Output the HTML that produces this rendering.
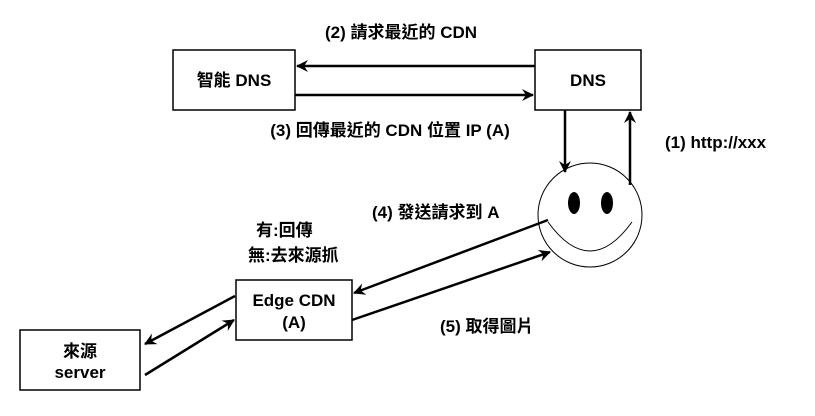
<!DOCTYPE html>
<html><head><meta charset="utf-8"><style>
body{margin:0;background:#fff;}
svg text{font-family:"Liberation Sans","Noto Sans CJK TC",sans-serif;font-weight:bold;font-size:17px;fill:#000;}
</style></head><body>
<svg width="815" height="411" viewBox="0 0 815 411" xmlns="http://www.w3.org/2000/svg">
<defs><marker id="a" markerWidth="12" markerHeight="12" refX="11" refY="6" orient="auto" markerUnits="userSpaceOnUse"><path d="M0,0 L12,6 L0,12 L4,6 z" fill="#000"/></marker></defs>
<g fill="#fff" stroke="#000" stroke-width="1.5">
<rect x="173" y="50" width="122" height="60"/>
<rect x="535" y="50" width="106" height="60"/>
<rect x="236" y="280" width="116" height="60"/>
<rect x="20" y="330" width="120" height="60"/>
<circle cx="590" cy="215" r="52" stroke-width="1"/>
</g>
<g stroke="#000" stroke-width="2.5" fill="none" marker-end="url(#a)">
<line x1="535" y1="66" x2="297" y2="66"/>
<line x1="295" y1="95" x2="533" y2="95"/>
<line x1="565" y1="110" x2="565" y2="172"/>
<line x1="630" y1="185" x2="630" y2="112"/>
<line x1="548" y1="220" x2="354" y2="293"/>
<line x1="352" y1="320" x2="550" y2="252"/>
<line x1="235" y1="296" x2="145" y2="344"/>
<line x1="145" y1="375" x2="234" y2="320"/>
</g>
<ellipse cx="574" cy="203" rx="6" ry="11" fill="#000"/>
<ellipse cx="607" cy="203" rx="6" ry="11" fill="#000"/>
<path d="M548,222 Q590,280 632,222" fill="none" stroke="#000" stroke-width="1"/>
<text x="401" y="38" text-anchor="middle">(2) 請求最近的 CDN</text>
<text x="234" y="86" text-anchor="middle">智能 DNS</text>
<text x="588" y="86" text-anchor="middle">DNS</text>
<text x="390" y="136" text-anchor="middle">(3) 回傳最近的 CDN 位置 IP (A)</text>
<text x="665" y="148">(1) http://xxx</text>
<text x="372" y="218">(4) 發送請求到 A</text>
<text x="256" y="236">有:回傳</text>
<text x="248" y="261">無:去來源抓</text>
<text x="294" y="306" text-anchor="middle">Edge CDN</text>
<text x="294" y="328" text-anchor="middle">(A)</text>
<text x="440" y="332">(5) 取得圖片</text>
<text x="80" y="357" text-anchor="middle">來源</text>
<text x="80" y="378" text-anchor="middle">server</text>
</svg>
</body></html>
